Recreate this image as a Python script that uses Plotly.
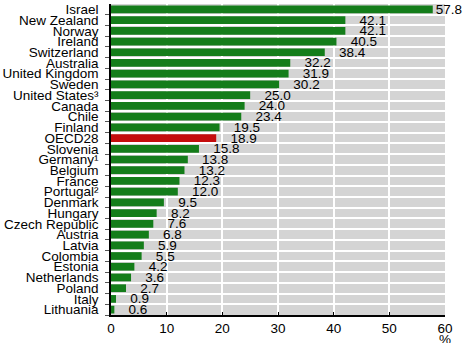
import plotly.graph_objects as go

countries = ["Israel", "New Zealand", "Norway", "Ireland", "Switzerland", "Australia",
             "United Kingdom", "Sweden", "United States³", "Canada", "Chile", "Finland",
             "OECD28", "Slovenia", "Germany¹", "Belgium", "France", "Portugal²", "Denmark",
             "Hungary", "Czech Republic", "Austria", "Latvia", "Colombia", "Estonia",
             "Netherlands", "Poland", "Italy", "Lithuania"]
values = [57.8, 42.1, 42.1, 40.5, 38.4, 32.2, 31.9, 30.2, 25.0, 24.0, 23.4, 19.5,
          18.9, 15.8, 13.8, 13.2, 12.3, 12.0, 9.5, 8.2, 7.6, 6.8, 5.9, 5.5, 4.2,
          3.6, 2.7, 0.9, 0.6]
x_ticks = [0, 10, 20, 30, 40, 50, 60]
highlight = "OECD28"

GREEN = "#147d1a"
RED = "#c40d0d"
GRAY = "#d4d4d4"

pos = list(range(len(countries)))
colors = [RED if c == highlight else GREEN for c in countries]
vmax = max(values)
templates = ["%{x:.1f}" if v == vmax else "   %{x:.1f}" for v in values]

fig = go.Figure()
fig.add_trace(go.Bar(
    x=values, y=pos, orientation="h",
    marker=dict(color=colors, line=dict(width=0)),
    texttemplate=templates, textposition="outside", constraintext="none",
    textfont=dict(family="Liberation Sans, Arial", size=13.5, color="#000"),
    cliponaxis=False, width=0.72,
))

fig.update_layout(
    width=464, height=343,
    margin=dict(l=107, r=19, t=2, b=28),
    plot_bgcolor=GRAY, paper_bgcolor="white",
    showlegend=False,
    font=dict(family="Liberation Sans, Arial", size=13.5, color="#000"),
    xaxis=dict(range=[0, 60], tickvals=x_ticks, showgrid=True, gridcolor="white",
               gridwidth=2, zeroline=False, showline=True, linecolor="#000",
               linewidth=1.5, ticks="inside", ticklen=3, tickcolor="#000",
               tickfont=dict(size=13.5), fixedrange=True),
    yaxis=dict(range=[len(countries) - 0.5, -0.5], tickvals=pos, ticktext=countries,
               showgrid=False, zeroline=False, showline=True, linecolor="#000",
               linewidth=1.5, ticks="", ticklabelstandoff=8,
               minor=dict(tickvals=[p + 0.5 for p in pos], showgrid=True,
                          gridcolor="white", gridwidth=2, ticks="outside",
                          ticklen=4, tickcolor="#555"),
               tickfont=dict(size=13.5)),
    annotations=[dict(text="%", x=60, y=0, xref="x", yref="paper", yshift=-15,
                      showarrow=False, font=dict(size=13.5), yanchor="top")],
)

fig.write_html("out.html")
